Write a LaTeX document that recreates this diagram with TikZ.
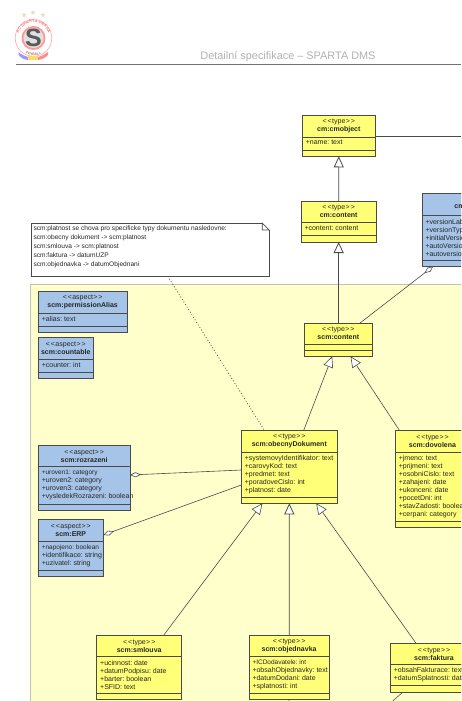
\documentclass[tikz,border=0pt]{standalone}
\usepackage{fontspec}
\setmainfont{Liberation Sans}
\usepackage{xcolor}
\usetikzlibrary{shapes.geometric,arrows.meta,calc,decorations.text}

\definecolor{typefill}{HTML}{FFFF78}
\definecolor{aspectfill}{HTML}{A6C4E8}
\definecolor{packfill}{HTML}{FFFFCB}
\definecolor{umlline}{HTML}{4A4A4A}

\newcommand{\stereo}[1]{\textless\kern1pt\textless\kern0.4pt #1\kern0.4pt\textgreater\kern1pt\textgreater}
\newcommand{\tight}{\fontsize{6.5}{8}\selectfont}

% stereotype+title and attribute lines are set apart, heights in px
\newcommand{\umlclass}[9]{
  \node[#1, anchor=north west, minimum width=#4, minimum height={#5+#6+#7}] (#2) at #3 {};
  \node[#1, anchor=north west, minimum width=#4, minimum height=#5, align=center] (#2-head) at (#2.north west) {#8};
  \node[#1, anchor=north west, minimum width=#4, minimum height=#6] (#2-attr) at (#2-head.south west) {};
  \node[classtext, anchor=north west, inner xsep=3.3pt, inner ysep=3.2pt, align=left] (#2-text) at (#2-attr.north west) {#9};
}

\begin{document}
\begin{tikzpicture}[
  x=1pt, y=-1pt,
  classtext/.style={font=\fontsize{7}{8}\selectfont\frenchspacing, text=black!85},
  classbox/.style={classtext, rectangle, draw=umlline, line width=0.7pt, inner sep=0pt, outer sep=0pt},
  typebox/.style={classbox, fill=typefill},
  aspectbox/.style={classbox, fill=aspectfill},
  gen/.style={-{Triangle[open, fill=white, length=11pt, width=10pt]}, umlline, line width=0.6pt},
  agg/.style={{Diamond[open, fill=white, length=11pt, width=5pt]}-, umlline, line width=0.6pt},
  dep/.style={umlline, dash pattern=on 1pt off 2pt, line width=0.7pt}
]
\clip (0,0) rectangle (461,701);
\fill[white] (0,0) rectangle (461,701);

% header
\node[inner sep=0pt, font=\fontsize{10.9}{14}\selectfont, text=black!30] (title) at (288,57) {Detailní specifikace -- SPARTA DMS};
\draw[black!55, line width=0.8pt] (16,64) -- (461,64);

% logo
\foreach \sx/\sy in {24/15,33/12.5,43/15}
  \node[star, star points=5, star point ratio=2.3, fill=brown!30, inner sep=0pt, minimum size=5.5pt] at (\sx,\sy) {};
\fill[white, draw=red!30, line width=0.7pt] (33.5,38) circle (18.3);
\path[postaction={decorate}, decoration={text along path, text align=center,
  text={|\fontsize{4}{5}\selectfont\bfseries\color{red!55}|AC SPARTA PRAHA}}]
  (19.13,43.8) arc[start angle=158, end angle=382, radius=15.5];
\fill[red!40] (33.5,38) circle (12);
\fill[black!12] (33.5,38) circle (10);
\node[inner sep=0pt, font=\bfseries\fontsize{25}{25}\selectfont, text=black!65] (logos) at (33.5,38) {S};
\fill[blue!40] (18.5,52) .. controls (22,55) and (25,56) .. (28,57) -- (28,60) .. controls (24,59.5) and (21,58) .. (18.5,55) -- cycle;
\fill[yellow!60!orange!60] (28,56) rectangle (38,60);
\fill[red!45] (38,57) .. controls (42,56) and (45,54) .. (48,52) -- (48,55) .. controls (45,58) and (42,59.5) .. (38,60) -- cycle;
\path[postaction={decorate}, decoration={text along path, text align=center,
  text={|\fontsize{3.4}{4}\selectfont\bfseries\color{red!55!black!60}|FOTBALL}}]
  (23.5,52.3) arc[start angle=125, end angle=55, radius=17.5];

% package background
\draw[packfill!60!black!60, fill=packfill, line width=0.7pt] (30.5,284.5) rectangle (480,720);

% note
\node[draw=umlline, fill=white, line width=0.7pt, anchor=north west, inner sep=0pt, minimum width=237.5, minimum height=52.5] (note) at (31,223) {};
\fill[white] ($(note.north east)+(-7,-1)$) rectangle ($(note.north east)+(1,7)$);
\draw[umlline, line width=0.7pt] ($(note.north east)+(-7,0)$) -- ($(note.north east)+(0,7)$) -- ($(note.north east)+(-7,7)$) -- cycle;
\node[anchor=north west, inner sep=0pt, align=left, text=black!85, font=\fontsize{6.6}{9.1}\selectfont\frenchspacing] (notetext) at (33.3,225.5) {scm:platnost se chova pro specificke typy dokumentu nasledovne:\\
scm:obecny dokument -> scm:platnost\\
scm:smlouva -> scm:platnost\\
scm:faktura -> datumUZP\\
scm:objednavka -> datumObjednani};

% classes
\umlclass{typebox}{cmobject}{(302.3,115.3)}{73}{21.7}{13.3}{6}{\stereo{type}\\\textbf{cm:cmobject}}{+name: text}
\umlclass{typebox}{cmcontent}{(301,201)}{75.3}{21.3}{13}{6.7}{\stereo{type}\\\textbf{cm:content}}{+content: content}
\umlclass{aspectbox}{versionable}{(422,193.7)}{75}{22}{44.3}{6.3}{\mbox{}\\\textbf{cm}}{+versionLab\\+versionTyp\\+initialVersio\\+autoVersio\\+autoversio}
\umlclass{aspectbox}{permission}{(38.3,291.3)}{88.7}{21.7}{13.7}{5.6}{\stereo{aspect}\\\textbf{scm:permissionAlias}}{+alias: text}
\umlclass{aspectbox}{countable}{(38.3,337.7)}{55}{21.6}{13.4}{6}{\stereo{aspect}\\\textbf{scm:countable}}{+counter: int}
\umlclass{typebox}{scmcontent}{(304.3,323)}{68}{21.3}{6.4}{5.6}{\stereo{type}\\\textbf{scm:content}}{}
\umlclass{typebox}{obecny}{(241.3,430.3)}{96}{22}{45}{6}{\stereo{type}\\\textbf{scm:obecnyDokument}}{+systemovyIdentifikator: text\\+carovyKod: text\\+predmet: text\\+poradoveCislo: int\\+platnost: date}
\umlclass{typebox}{dovolena}{(395.3,430.3)}{74.4}{22}{68.7}{6}{\stereo{type}\\\textbf{scm:dovolena}}{+jmeno: text\\+prijmeni: text\\+osobniCislo: text\\+zahajeni: date\\+ukonceni: date\\+pocetDni: int\\+stavZadosti: boolea\\+cerpani: category}
\umlclass{aspectbox}{rozrazeni}{(38.3,445.3)}{91.7}{21.4}{37.3}{6.3}{\stereo{aspect}\\\textbf{scm:rozrazeni}}{\tight +uroven1: category\\+uroven2: category\\+uroven3: category\\+vysledekRozrazeni: boolean}
\umlclass{aspectbox}{erp}{(38.3,519.7)}{65}{21.6}{29}{6.4}{\stereo{aspect}\\\textbf{scm:ERP}}{\tight +napojeno: boolean\\+identifikace: string\\+uzivatel: string}
\umlclass{typebox}{smlouva}{(96.7,635)}{85}{21.7}{36.6}{6}{\stereo{type}\\\textbf{scm:smlouva}}{+ucinnost: date\\+datumPodpisu: date\\+barter: boolean\\+SFID: text}
\umlclass{typebox}{objednavka}{(249,635)}{80.3}{21.7}{36.6}{6}{\stereo{type}\\\textbf{scm:objednavka}}{\tight +ICDodavatele: int\\+obsahObjednavky: text\\+datumDodani: date\\+splatnosti: int}
\umlclass{typebox}{faktura}{(390.3,643.3)}{87.4}{21}{21.4}{6.3}{\stereo{type}\\\textbf{scm:faktura}}{+obsahFakturace: text\\+datumSplatnosti: date}

% connectors
\coordinate (rightedge) at (461,136);
\coordinate (objfoot) at (289,701);
\coordinate (fakfoot) at (392.7,701);
\draw[umlline, line width=0.6pt] (cmobject.east |- rightedge) -- (rightedge);
\draw[gen, line width=0.8pt] (cmcontent.north) -- (cmobject.south);
\draw[gen, line width=0.8pt] (scmcontent.north -| cmcontent.south) -- (cmcontent.south);
\draw[gen] ($(obecny.north west)!0.65!(obecny.north east)$) -- ($(scmcontent.south west)!0.41!(scmcontent.south east)$);
\draw[gen] ($(dovolena.north west)!0.055!(dovolena.north east)$) -- ($(scmcontent.south west)!0.68!(scmcontent.south east)$);
\draw[gen] ($(smlouva.north west)!0.79!(smlouva.north east)$) -- ($(obecny.south west)!0.22!(obecny.south east)$);
\draw[gen, line width=0.8pt] ($(objednavka.north west)!0.5!(objednavka.north east)$) -- ($(obecny.south west)!0.5!(obecny.south east)$);
\draw[gen] ($(faktura.north west)!0.295!(faktura.north east)$) -- ($(obecny.south west)!0.78!(obecny.south east)$);
\draw[agg] ($(versionable.south west)!0.15!(versionable.south east)$) -- ($(scmcontent.north west)!0.82!(scmcontent.north east)$);
\draw[agg] (rozrazeni.east |- 130,475) -- (obecny.west |- 241,470);
\draw[agg] (erp.east |- 103.3,535) -- (obecny.west |- 241,485);
\draw[dep] ($(note.south west)!0.574!(note.south east)$) -- ($(obecny.north west)!0.24!(obecny.north east)$);
\draw[umlline, line width=0.6pt] (objednavka.south |- 289,699) -- (objfoot);
\draw[umlline, line width=0.6pt] ($(faktura.south west)!0.145!(faktura.south east)$) -- (fakfoot);
\end{tikzpicture}
\end{document}
